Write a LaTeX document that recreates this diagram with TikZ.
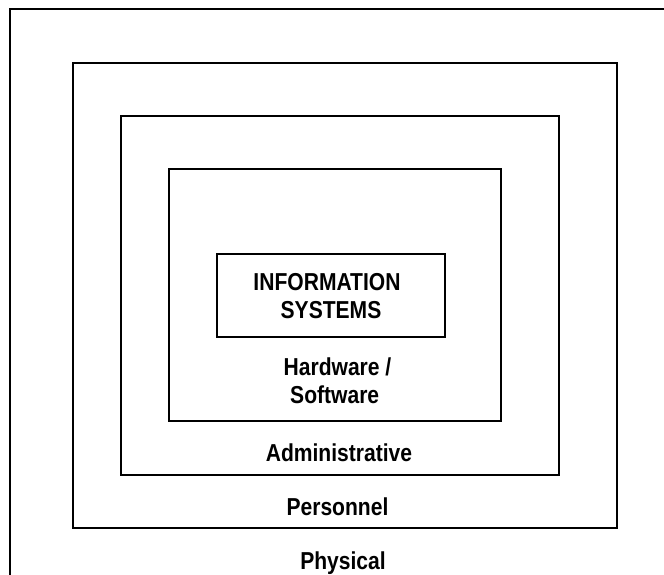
\documentclass[tikz,border=0pt]{standalone}
\usepackage{fontspec}
\setmainfont{Liberation Sans}[FakeStretch=0.86]
\begin{document}
\begin{tikzpicture}[x=1pt,y=-1pt,
  layer/.style={draw=black,line width=2pt,fill=none,inner sep=0pt},
  lbl/.style={anchor=base,inner sep=0pt,font=\fontsize{24.5}{28.5}\selectfont\bfseries}]
\useasboundingbox (0,0) rectangle (664,575);
\clip (0,0) rectangle (664,575);
\draw[line width=2pt] (10,640) -- (10,9) -- (720,9);
\node[layer,minimum width=544pt,minimum height=465pt] (pers) at (345,295.5) {};
\node[layer,minimum width=438pt,minimum height=359pt] (admin) at (340,295.5) {};
\node[layer,minimum width=332pt,minimum height=252pt] (hw) at (335,295) {};
\node[layer,minimum width=228pt,minimum height=83pt] (is) at (331,295.5) {};
\node[lbl] (t1) at (327,290) {INFORMATION};
\node[lbl] (t2) at (331,318.7) {SYSTEMS};
\node[lbl] (t3) at (337.5,375) {Hardware /};
\node[lbl] (t4) at (334.7,403.5) {Software};
\node[lbl] (t5) at (339,461.7) {Administrative};
\node[lbl] (t6) at (337.5,515) {Personnel};
\node[lbl] (t7) at (343,569) {Physical};
\end{tikzpicture}
\end{document}
